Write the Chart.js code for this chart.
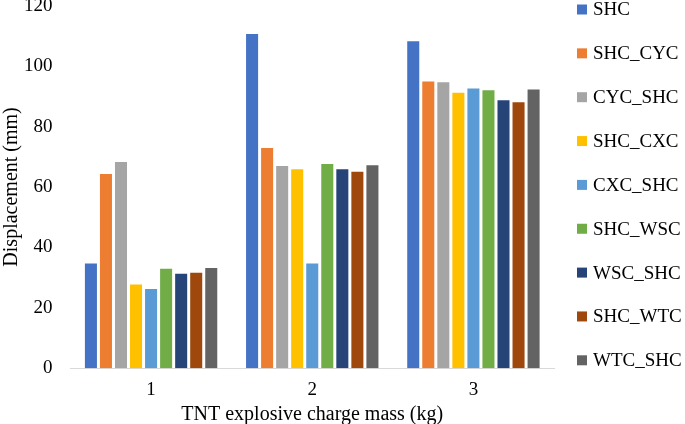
<!DOCTYPE html>
<html>
<head>
<meta charset="utf-8">
<script src="https://cdn.jsdelivr.net/npm/chart.js@4/dist/chart.umd.min.js"></script>
<style>
  html, body { margin: 0; padding: 0; background: #fff; }
  #wrap { width: 685px; height: 424px; }
</style>
</head>
<body>
<div id="wrap"><canvas id="chart" width="685" height="424"></canvas></div>
<script>
// displacement per joint configuration, one array per series
const categories = ['1', '2', '3'];
const SHC     = [34.7, 110.6, 108.2];
const SHC_CYC = [64.3, 72.9, 94.9];
const CYC_SHC = [68.3, 66.9, 94.7];
const SHC_CXC = [27.7, 65.9, 91.2];
const CXC_SHC = [26.2, 34.7, 92.6];
const SHC_WSC = [32.9, 67.6, 92.0];
const WSC_SHC = [31.3, 65.9, 88.7];
const SHC_WTC = [31.6, 65.0, 88.0];
const WTC_SHC = [33.2, 67.2, 92.3];

const seriesNames = ['SHC', 'SHC_CYC', 'CYC_SHC', 'SHC_CXC', 'CXC_SHC', 'SHC_WSC', 'WSC_SHC', 'SHC_WTC', 'WTC_SHC'];
const seriesData  = [SHC, SHC_CYC, CYC_SHC, SHC_CXC, CXC_SHC, SHC_WSC, WSC_SHC, SHC_WTC, WTC_SHC];
const COLORS = ['#4472C4', '#ED7D31', '#A5A5A5', '#FFC000', '#5B9BD5', '#70AD47', '#264478', '#9E480E', '#636363'];

const FONT = 'Liberation Serif';
const TEXT = '#000';

const datasets = seriesNames.map((name, i) => ({
  label: name,
  data: seriesData[i],
  backgroundColor: COLORS[i],
  borderWidth: 0,
  barPercentage: 0.8,
  categoryPercentage: 0.84,
}));

// ── Legend drawn by hand so the rows sit like the original ──────────────
const sideLegend = {
  id: 'sideLegend',
  afterDraw(chart) {
    const ctx = chart.ctx;
    ctx.save();
    ctx.font = '19px "' + FONT + '"';
    ctx.textBaseline = 'middle';
    ctx.textAlign = 'left';
    chart.data.datasets.forEach((ds, i) => {
      const y = 9.5 + i * 43.85;
      ctx.fillStyle = ds.backgroundColor;
      ctx.fillRect(577, y - 5, 10, 10);
      ctx.fillStyle = TEXT;
      ctx.fillText(ds.label, 593, y + 1);
    });
    ctx.restore();
  },
};

new Chart(document.getElementById('chart'), {
  type: 'bar',
  data: { labels: categories, datasets },
  plugins: [sideLegend],
  options: {
    responsive: false,
    animation: false,
    layout: { padding: { top: 0, right: 131, bottom: 0, left: 0 } },
    plugins: {
      tooltip: { enabled: false },
      legend: { display: false },
    },
    scales: {
      x: {
        grid: { display: false },
        border: { display: true, color: '#d9d9d9', width: 1 },
        ticks: { color: TEXT, font: { family: FONT, size: 19 }, padding: 2 },
        title: {
          display: true,
          text: 'TNT explosive charge mass (kg)',
          color: TEXT,
          font: { family: FONT, size: 20, lineHeight: 1.15 },
          padding: { top: 0, bottom: -2 },
        },
      },
      y: {
        min: 0,
        max: 120,
        ticks: { stepSize: 20, color: TEXT, font: { family: FONT, size: 19, lineHeight: 0.6 }, padding: 0 },
        grid: { display: false, tickLength: 18 },
        border: { display: false },
        title: {
          display: true,
          text: 'Displacement (mm)',
          color: TEXT,
          font: { family: FONT, size: 20 },
          padding: { top: 0, bottom: 0 },
        },
      },
    },
  },
});
</script>
</body>
</html>
